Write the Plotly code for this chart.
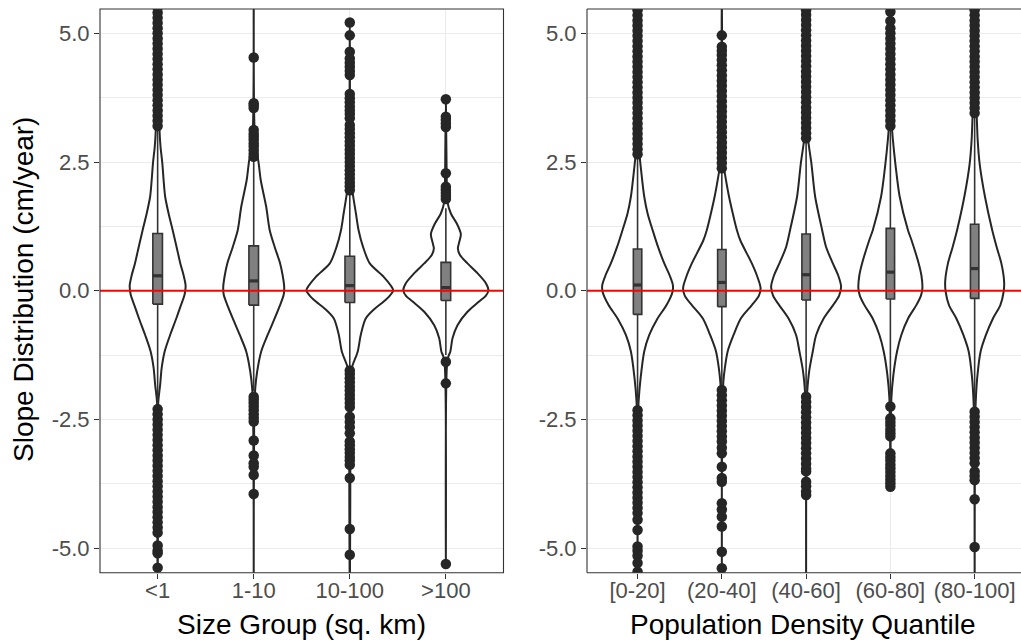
import plotly.graph_objects as go

# ---------------- data ----------------
size_groups = ["<1", "1-10", "10-100", ">100"]
density_groups = ["[0-20]", "(20-40]", "(40-60]", "(60-80]", "(80-100]"]

# box statistics (cm/year)
size_q1 = [-0.26, -0.28, -0.23, -0.19]
size_median = [0.29, 0.19, 0.10, 0.06]
size_q3 = [1.11, 0.87, 0.67, 0.55]
size_lowerfence = [-2.2, -1.95, -1.5, -1.25]
size_upperfence = [3.1, 2.55, 1.9, 1.6]

dens_q1 = [-0.46, -0.31, -0.18, -0.16, -0.15]
dens_median = [0.11, 0.16, 0.31, 0.36, 0.43]
dens_q3 = [0.81, 0.80, 1.10, 1.21, 1.29]
dens_lowerfence = [-2.25, -1.85, -2.0, -2.15, -2.3]
dens_upperfence = [2.6, 2.35, 2.95, 3.15, 3.4]

# violin outlines: slope levels and half-widths (category units)
size_violin_levels = [
    [6.0, 3.1, 2.8, 2.47, 2.15, 1.83, 1.5, 1.18, 0.85, 0.53, 0.3, 0.1, -0.08, -0.3, -0.54, -0.86, -1.18, -1.5, -1.83, -2.2, -6.0],
    [6.0, 3.0, 2.47, 2.15, 1.63, 1.18, 0.85, 0.53, 0.3, 0.08, -0.08, -0.3, -0.54, -0.86, -1.18, -1.57, -1.9, -2.5, -6.0],
    [5.21, 2.3, 1.89, 1.5, 1.18, 0.85, 0.53, 0.27, 0.1, 0.01, -0.1, -0.21, -0.35, -0.54, -0.86, -1.18, -1.44, -1.6, -6.0],
    [3.72, 2.0, 1.73, 1.5, 1.3, 1.1, 0.95, 0.82, 0.7, 0.53, 0.34, 0.15, 0.01, -0.1, -0.21, -0.41, -0.67, -0.92, -1.18, -1.28, -1.5, -5.31],
]
size_violin_halfwidth = [
    [0.0, 0.02, 0.03, 0.049, 0.062, 0.078, 0.114, 0.156, 0.197, 0.236, 0.27, 0.291, 0.28, 0.239, 0.194, 0.13, 0.073, 0.042, 0.026, 0.005, 0.0],
    [0.0, 0.012, 0.052, 0.073, 0.13, 0.166, 0.218, 0.275, 0.301, 0.317, 0.312, 0.27, 0.218, 0.145, 0.078, 0.036, 0.016, 0.005, 0.0],
    [0.0, 0.01, 0.031, 0.064, 0.091, 0.138, 0.208, 0.353, 0.426, 0.452, 0.415, 0.353, 0.26, 0.166, 0.114, 0.083, 0.031, 0.01, 0.0],
    [0.0, 0.01, 0.016, 0.052, 0.115, 0.156, 0.14, 0.125, 0.145, 0.225, 0.329, 0.415, 0.443, 0.415, 0.346, 0.225, 0.121, 0.07, 0.047, 0.026, 0.01, 0.0],
]

dens_violin_levels = [
    [6.0, 3.0, 2.63, 2.34, 1.83, 1.5, 1.18, 0.85, 0.53, 0.3, 0.11, -0.02, -0.28, -0.54, -0.86, -1.18, -1.7, -2.16, -2.5, -6.0],
    [6.0, 2.8, 2.41, 2.28, 1.83, 1.5, 1.18, 0.98, 0.53, 0.3, 0.05, -0.1, -0.28, -0.54, -0.86, -1.18, -1.5, -1.77, -2.2, -6.0],
    [6.0, 3.3, 2.93, 2.47, 1.83, 1.18, 0.85, 0.53, 0.3, 0.08, -0.1, -0.28, -0.54, -0.86, -1.18, -1.57, -1.99, -2.3, -6.0],
    [6.0, 3.5, 3.18, 2.93, 2.47, 1.83, 1.18, 0.98, 0.53, 0.3, 0.05, -0.1, -0.28, -0.54, -0.86, -1.18, -1.63, -2.09, -3.81],
    [6.0, 3.8, 3.41, 2.93, 2.47, 1.83, 1.18, 0.85, 0.53, 0.17, -0.02, -0.28, -0.54, -0.86, -1.18, -1.7, -2.19, -2.6, -6.0],
]
dens_violin_halfwidth = [
    [0.0, 0.012, 0.024, 0.042, 0.079, 0.119, 0.178, 0.243, 0.317, 0.38, 0.419, 0.415, 0.344, 0.237, 0.139, 0.079, 0.036, 0.012, 0.005, 0.0],
    [0.0, 0.01, 0.024, 0.036, 0.085, 0.13, 0.178, 0.219, 0.356, 0.415, 0.46, 0.439, 0.356, 0.225, 0.139, 0.069, 0.036, 0.018, 0.005, 0.0],
    [0.0, 0.01, 0.024, 0.063, 0.107, 0.19, 0.237, 0.317, 0.38, 0.415, 0.391, 0.32, 0.208, 0.119, 0.079, 0.036, 0.012, 0.005, 0.0],
    [0.0, 0.01, 0.018, 0.03, 0.059, 0.11, 0.208, 0.251, 0.336, 0.368, 0.38, 0.362, 0.308, 0.21, 0.13, 0.079, 0.036, 0.012, 0.0],
    [0.0, 0.01, 0.024, 0.036, 0.059, 0.122, 0.208, 0.261, 0.317, 0.35, 0.344, 0.305, 0.217, 0.134, 0.071, 0.03, 0.012, 0.005, 0.0],
]

# outlying slopes per group
size_outliers = [
    [3.2, 3.3, 3.4, 3.5, 3.6, 3.7, 3.8, 3.9, 4.0, 4.1, 4.2, 4.3, 4.4, 4.5, 4.6, 4.7, 4.8, 4.9, 5.0, 5.1, 5.2, 5.3, 5.4, 5.5,
     -2.3, -2.4, -2.5, -2.6, -2.7, -2.8, -2.9, -3.0, -3.1, -3.2, -3.3, -3.4, -3.5, -3.6, -3.7, -3.8, -3.9, -4.0, -4.1,
     -4.2, -4.3, -4.4, -4.5, -4.6, -4.7, -4.95, -5.05, -5.1, -5.38],
    [2.6, 2.66, 2.73, 2.8, 2.86, 2.93, 2.99, 3.05, 3.12, 3.55, 3.6, 3.64, 4.53,
     -2.06, -2.12, -2.18, -2.25, -2.32, -2.4, -2.47, -2.54, -2.91, -3.2, -3.35, -3.42, -3.58, -3.95],
    [1.95, 2.03, 2.1, 2.18, 2.26, 2.34, 2.42, 2.5, 2.58, 2.66, 2.74, 2.82, 2.9, 2.98, 3.06, 3.14, 3.22,
     3.35, 3.43, 3.5, 3.58, 3.66, 3.74, 3.82, 4.19, 4.27, 4.35, 4.43, 4.51, 4.64, 4.96, 5.21,
     -1.55, -1.62, -1.7, -1.78, -1.86, -1.94, -2.02, -2.1, -2.18, -2.26, -2.45, -2.55, -2.65, -2.77,
     -2.93, -3.0, -3.08, -3.15, -3.23, -3.3, -3.38, -3.64, -4.63, -5.13],
    [1.78, 1.84, 1.9, 1.96, 2.02, 2.28, 3.18, 3.25, 3.32, 3.38, 3.72, -1.38, -1.8, -5.31],
]
dens_outliers = [
    [2.65, 2.75, 2.85, 2.95, 3.05, 3.15, 3.25, 3.35, 3.45, 3.55, 3.65, 3.75, 3.85, 3.95, 4.05, 4.15, 4.25, 4.35,
     4.45, 4.55, 4.65, 4.75, 4.85, 4.95, 5.05, 5.15, 5.25, 5.35, 5.45,
     -2.32, -2.42, -2.52, -2.62, -2.72, -2.82, -2.92, -3.02, -3.12, -3.22, -3.32, -3.42, -3.52, -3.62, -3.72,
     -3.82, -3.92, -4.02, -4.12, -4.22, -4.32, -4.45, -4.65, -4.97, -5.05, -5.15, -5.29, -5.46],
    [2.38, 2.48, 2.58, 2.68, 2.78, 2.88, 2.98, 3.08, 3.18, 3.28, 3.38, 3.48, 3.58, 3.68, 3.78, 3.88, 3.98, 4.08,
     4.18, 4.28, 4.38, 4.48, 4.58, 4.66, 4.74, 4.96,
     -1.93, -2.03, -2.13, -2.23, -2.33, -2.43, -2.53, -2.63, -2.73, -2.83, -2.93, -3.05, -3.16, -3.42, -3.64,
     -3.71, -4.13, -4.25, -4.39, -4.58, -5.07, -5.39],
    [2.96, 3.06, 3.16, 3.26, 3.36, 3.46, 3.56, 3.66, 3.76, 3.86, 3.96, 4.06, 4.16, 4.26, 4.36, 4.46, 4.56, 4.66,
     4.76, 4.86, 4.96, 5.06, 5.16, 5.26, 5.36, 5.45,
     -2.06, -2.16, -2.26, -2.36, -2.46, -2.56, -2.66, -2.76, -2.86, -2.96, -3.06, -3.16, -3.26, -3.36, -3.46,
     -3.51, -3.71, -3.8, -3.9, -3.97],
    [3.2, 3.3, 3.4, 3.5, 3.6, 3.7, 3.8, 3.9, 4.0, 4.1, 4.2, 4.3, 4.4, 4.5, 4.6, 4.7, 4.8, 4.9, 5.0, 5.1, 5.24, 5.42,
     -2.25, -2.48, -2.55, -2.62, -2.7, -2.77, -2.83, -3.16, -3.23, -3.3, -3.38, -3.45, -3.52, -3.6, -3.67,
     -3.74, -3.81],
    [3.45, 3.55, 3.65, 3.75, 3.85, 3.95, 4.05, 4.15, 4.25, 4.35, 4.45, 4.55, 4.65, 4.75, 4.85, 4.95, 5.05, 5.15,
     5.25, 5.35, 5.45,
     -2.35, -2.45, -2.55, -2.65, -2.75, -2.85, -2.95, -3.05, -3.15, -3.25, -3.35, -3.51, -3.6, -3.68, -4.05, -4.98],
]

y_ticks = [-5.0, -2.5, 0.0, 2.5, 5.0]
y_tick_text = ["-5.0", "-2.5", "0.0", "2.5", "5.0"]
y_minor = [-3.75, -1.25, 1.25, 3.75]

# ---------------- styling ----------------
FONT = "Liberation Sans, Arial, Helvetica, sans-serif"
INK = "#262626"
BORDER = "#333333"
GRID = "#EBEBEB"
BOX_FILL = "#808080"
BOX_HALF = 0.05
TICK_FONT = dict(family=FONT, size=22, color="#4D4D4D")
TITLE_FONT = dict(family=FONT, size=28, color="#000000")

fig = go.Figure()


def add_panel(xref, yref, groups, levels, halfwidths, q1, med, q3, lo, hi, outliers):
    common = dict(xaxis=xref, yaxis=yref, hoverinfo="skip", showlegend=False)
    # violins (white-filled outlines)
    for i, _ in enumerate(groups):
        c = i + 1
        ys = levels[i]
        ws = halfwidths[i]
        xs = [c + w for w in ws] + [c - w for w in reversed(ws)]
        yy = list(ys) + list(reversed(ys))
        fig.add_trace(go.Scatter(
            x=xs, y=yy, mode="lines",
            line=dict(color=INK, width=2.0, shape="spline", smoothing=0.8),
            fill="toself", fillcolor="white", **common,
        ))
    # boxplots: whiskers, box, median
    for i, _ in enumerate(groups):
        c = i + 1
        fig.add_trace(go.Scatter(
            x=[c, c, None, c, c], y=[q3[i], hi[i], None, q1[i], lo[i]], mode="lines",
            line=dict(color=BORDER, width=1.6), **common,
        ))
        fig.add_trace(go.Scatter(
            x=[c - BOX_HALF, c + BOX_HALF, c + BOX_HALF, c - BOX_HALF, c - BOX_HALF],
            y=[q1[i], q1[i], q3[i], q3[i], q1[i]], mode="lines",
            line=dict(color=BORDER, width=1.6), fill="toself", fillcolor=BOX_FILL, **common,
        ))
        fig.add_trace(go.Scatter(
            x=[c - BOX_HALF, c + BOX_HALF], y=[med[i], med[i]], mode="lines",
            line=dict(color=BORDER, width=3.2), **common,
        ))
    # outlying points
    for i, _ in enumerate(groups):
        c = i + 1
        pts = outliers[i]
        fig.add_trace(go.Scatter(
            x=[c] * len(pts), y=pts, mode="markers",
            marker=dict(color=INK, size=10.5, line=dict(width=0)), **common,
        ))


add_panel("x", "y", size_groups, size_violin_levels, size_violin_halfwidth,
          size_q1, size_median, size_q3, size_lowerfence, size_upperfence, size_outliers)
add_panel("x2", "y2", density_groups, dens_violin_levels, dens_violin_halfwidth,
          dens_q1, dens_median, dens_q3, dens_lowerfence, dens_upperfence, dens_outliers)

W, H = 1021, 642
y_dom = [1 - 572.7 / H, 1 - 9 / H]
y_range = [-5.478, 5.472]

xaxis_common = dict(
    showgrid=True, gridcolor=GRID, gridwidth=1.1, zeroline=False, showline=False,
    ticks="outside", ticklen=5, tickwidth=1.1, tickcolor=BORDER, tickfont=TICK_FONT,
    ticklabelstandoff=-7,
)
yaxis_common = dict(
    range=y_range, domain=y_dom, tickvals=y_ticks, ticktext=y_tick_text,
    showgrid=True, gridcolor=GRID, gridwidth=1.1, zeroline=False, showline=False,
    ticks="outside", ticklen=5, tickwidth=1.1, tickcolor=BORDER, tickfont=TICK_FONT,
    minor=dict(tickvals=y_minor, showgrid=True, gridcolor=GRID, gridwidth=0.6, ticks=""),
)

fig.update_layout(
    width=W, height=H, margin=dict(l=0, r=0, t=0, b=0),
    paper_bgcolor="white", plot_bgcolor="white", showlegend=False,
    xaxis=dict(domain=[100 / W, 503.5 / W], range=[0.4, 4.6],
               tickvals=[1, 2, 3, 4], ticktext=size_groups, anchor="y", **xaxis_common),
    yaxis=dict(anchor="x", **yaxis_common),
    xaxis2=dict(domain=[587 / W, 1.0], range=[0.4, 5.55],
                tickvals=[1, 2, 3, 4, 5], ticktext=density_groups, anchor="y2", **xaxis_common),
    yaxis2=dict(anchor="x2", **yaxis_common),
)

# zero reference line on both panels
for xr, yr in (("x", "y"), ("x2", "y2")):
    fig.add_shape(type="line", xref=f"{xr} domain", yref=yr, x0=0, x1=1, y0=0, y1=0,
                  line=dict(color="#FF0000", width=2), layer="above")

# panel borders
fig.add_shape(type="rect", xref="x domain", yref="y domain", x0=0, x1=1, y0=0, y1=1,
              line=dict(color=BORDER, width=1.1), layer="above")
for x0, y0, x1, y1 in ((0, 0, 0, 1), (0, 0, 1.01, 0), (0, 1, 1.01, 1)):
    fig.add_shape(type="line", xref="x2 domain", yref="y2 domain", x0=x0, y0=y0, x1=x1, y1=y1,
                  line=dict(color=BORDER, width=1.1), layer="above")

# axis titles
fig.add_annotation(text="Size Group (sq. km)", xref="x domain", yref="paper", x=0.5, y=1 - 624 / H,
                   showarrow=False, font=TITLE_FONT, xanchor="center", yanchor="middle")
fig.add_annotation(text="Population Density Quantile", xref="x2 domain", yref="paper",
                   x=(803 - 587) / (W - 587), y=1 - 624 / H,
                   showarrow=False, font=TITLE_FONT, xanchor="center", yanchor="middle")
fig.add_annotation(text="Slope Distribution (cm/year)", xref="paper", yref="paper", x=24 / W, y=1 - 290 / H,
                   showarrow=False, font=TITLE_FONT, textangle=-90, xanchor="center", yanchor="middle")

fig.write_html("out.html")
